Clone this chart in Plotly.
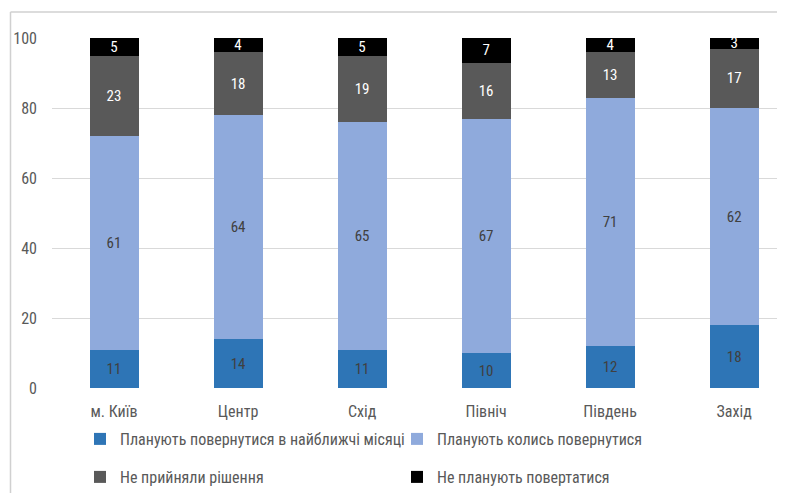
import plotly.graph_objects as go

categories = ["м. Київ", "Центр", "Схід", "Північ", "Південь", "Захід"]
soon = [11, 14, 11, 10, 12, 18]
someday = [61, 64, 65, 67, 71, 62]
undecided = [23, 18, 19, 16, 13, 17]
never = [5, 4, 5, 7, 4, 3]

series_names = [
    "Планують повернутися в найближчі місяці",
    "Планують колись повернутися",
    "Не прийняли рішення",
    "Не планують повертатися",
]
series_values = [soon, someday, undecided, never]
colors = ["#2E75B6", "#8FAADC", "#595959", "#000000"]
text_colors = ["#404040", "#404040", "#FFFFFF", "#FFFFFF"]
legend_ids = ["legend", "legend2", "legend3", "legend4"]

FONT = "Liberation Sans Narrow, Roboto Condensed, Liberation Sans, sans-serif"

# page body adds an 8px offset; figure coordinates below are page coords - 8
OFF = 8
W, H = 785 - OFF, 493 - OFF
L, R, T, B = 44, 0, 30, 105
pw = W - L - R
ph = H - T - B

def px(xp):
    return (xp - OFF - L) / pw

def py(yp):
    return (H - B - (yp - OFF)) / ph

fig = go.Figure()
for name, vals, col, tcol, lg in zip(series_names, series_values, colors, text_colors, legend_ids):
    fig.add_trace(go.Bar(
        x=categories, y=vals, name=name,
        marker=dict(color=col, line=dict(width=0)),
        text=vals, texttemplate="%{text}",
        textposition="inside", insidetextanchor="middle",
        constraintext="none",
        textfont=dict(color=tcol, size=15, family=FONT),
        textangle=0,
        width=0.395,
        legend=lg,
    ))

legend_pos = [(80, 422), (397, 422), (80, 460), (397, 460)]
legends = {}
for lg, (lx, ly) in zip(legend_ids, legend_pos):
    legends[lg] = dict(orientation="h", x=px(lx), y=py(ly), xanchor="left", yanchor="top",
                       itemwidth=30,
                       font=dict(size=16, color="#595959", family=FONT),
                       bgcolor="rgba(0,0,0,0)")

fig.update_layout(
    width=W, height=H,
    barmode="stack",
    margin=dict(l=L, r=R, t=T, b=B, autoexpand=False),
    plot_bgcolor="white", paper_bgcolor="white",
    font=dict(family=FONT, size=16, color="#595959"),
    xaxis=dict(range=[-0.5, 5.41], showgrid=False, showline=False, zeroline=False,
               ticks="", tickfont=dict(size=16, color="#595959"), ticklabelstandoff=12),
    yaxis=dict(range=[0, 100.05], tickvals=[0, 20, 40, 60, 80, 100], showgrid=True,
               gridcolor="#D9D9D9", gridwidth=1.2, zeroline=False, showline=False,
               ticks="", tickfont=dict(size=16, color="#595959"), ticklabelstandoff=14),
    shapes=[
        dict(type="line", xref="paper", yref="paper", x0=px(10.5), x1=px(800), y0=py(12), y1=py(12),
             line=dict(color="#D0D0D0", width=1.5)),
        dict(type="line", xref="paper", yref="paper", x0=px(10.5), x1=px(10.5), y0=py(12), y1=py(500),
             line=dict(color="#D0D0D0", width=1.5)),
    ],
    showlegend=True,
    **legends,
)

fig.write_html("out.html")
